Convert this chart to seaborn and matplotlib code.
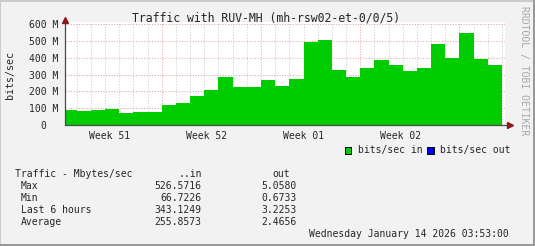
import numpy as np
import pandas as pd
import matplotlib
matplotlib.use("Agg")
import matplotlib.pyplot as plt
from matplotlib.patches import Rectangle
import seaborn as sns

# ---------------- data ----------------
# day offsets relative to Monday 2025-12-22 (start of Week 52); first bin is partial
bin_edges = [-6.82, -6, -5, -4, -3, -2, -1, 0, 1, 2, 3, 4, 5, 6, 7, 8, 9, 10,
             11, 12, 13, 14, 15, 16, 17, 18, 19, 20, 21, 22, 23, 24]
bits_in_M = [89, 83, 89, 95, 71.5, 77, 77,
             119, 131, 173, 209, 286, 226, 226,
             268, 232, 274, 495, 507, 328, 286,
             340, 387, 358, 322, 340, 483, 399,
             548, 393, 358]
week_labels = ["Week 51", "Week 52", "Week 01", "Week 02"]
week_label_pos = [-3.68, 3.17, 10.02, 16.84]
week_starts = [0, 7, 14, 21]
y_ticks = [0, 100, 200, 300, 400, 500, 600]
y_tick_labels = ["0  ", "100 M", "200 M", "300 M", "400 M", "500 M", "600 M"]

title = "Traffic with RUV-MH (mh-rsw02-et-0/0/5)"
legend_labels = ["bits/sec in", "bits/sec out"]
table_header = ["Traffic - Mbytes/sec", "..in", "out"]
row_names = ["Max", "Min", "Last 6 hours", "Average"]
in_vals = ["526.5716", "66.7226", "343.1249", "255.8573"]
out_vals = ["5.0580", "0.6733", "3.2253", "2.4656"]
timestamp = "Wednesday January 14 2026 03:53:00"

GREEN = "#00cc00"
BLUE = "#0000ff"
BACK = "#f2f2f2"

sns.set_style("white")
plt.rcParams["font.family"] = ["DejaVu Sans Mono", "DejaVu Sans"]

W, H = 535, 246
fig = plt.figure(figsize=(W / 100, H / 100), dpi=100, facecolor=BACK)

def fx(px):
    return px / W

def fy(py):
    return 1 - py / H

# axes: x 65..505 px, y 22..125 px
ax = fig.add_axes([fx(65), fy(125), fx(505) - fx(65), (125 - 22) / H])
ax.set_facecolor("white")

mids = [(bin_edges[i] + bin_edges[i + 1]) / 2 for i in range(len(bits_in_M))]
df = pd.DataFrame({"day": mids, "value": bits_in_M})
sns.histplot(data=df, x="day", weights="value", bins=bin_edges, element="step",
             fill=True, color=GREEN, alpha=1, linewidth=0, ax=ax, zorder=2)

ax.set_xlim(-6.82, 24.21)
ax.set_ylim(0, 614)

# grid
dot = (0, (1, 1.6))
for d in range(-6, 25):
    if d in week_starts:
        continue
    ax.axvline(d, color="#cccccc", lw=0.75, ls=dot, zorder=1)
for d in week_starts:
    ax.axvline(d, color="#e6a6a6", lw=0.75, ls=dot, zorder=1)
for yv in y_ticks[1:]:
    ax.axhline(yv, color="#e6a6a6", lw=0.75, ls=dot, zorder=1)

for s in ax.spines.values():
    s.set_visible(False)

# axis lines with arrows
ax.plot([-6.82, 24.6], [0, 0], color="#4a4a4a", lw=0.9, clip_on=False, zorder=5)
ax.plot([-6.82, -6.82], [0, 622], color="#4a4a4a", lw=0.9, clip_on=False, zorder=5)
ax.plot([24.58], [0], marker=">", color="#8b1a1a", markersize=4.5, clip_on=False, zorder=6)
ax.plot([-6.82], [624], marker="^", color="#8b1a1a", markersize=4.5, clip_on=False, zorder=6)

ax.set_xticks(week_label_pos)
ax.set_xticklabels(week_labels, fontsize=7)
ax.set_xticks(list(range(-6, 25)), minor=True)
ax.tick_params(axis="x", which="major", length=0, pad=4)
ax.tick_params(axis="x", which="minor", length=2, color="#b0b0b0", width=0.7)
ax.set_yticks(y_ticks)
ax.set_yticklabels(y_tick_labels, fontsize=7)
ax.tick_params(axis="y", which="major", length=2, color="#e08080", width=0.7, pad=2.5)
ax.set_xlabel("")
ax.set_ylabel("")

# texts
fig.text(fx(266.5), fy(21.5), title, fontsize=8.3, ha="center", va="baseline")
fig.text(fx(10.5), fy(75), "bits/sec", fontsize=7.2, rotation=90, ha="center", va="center")
fig.text(fx(524), fy(71), "RRDTOOL / TOBI OETIKER", fontsize=7, rotation=270,
         ha="center", va="center", color="#a8a8a8")

# legend
for (x0, col, lab) in [(344.5, GREEN, legend_labels[0]), (427, BLUE, legend_labels[1])]:
    fig.add_artist(Rectangle((fx(x0), fy(153.5)), 6.5 / W, 6.5 / H, transform=fig.transFigure,
                             facecolor=col, edgecolor="black", lw=0.7))
    fig.text(fx(x0 + 13), fy(153.3), lab, fontsize=7, ha="left", va="baseline")

# table
fig.text(fx(14.7), fy(177.3), table_header[0], fontsize=7, ha="left", va="baseline")
fig.text(fx(201.7), fy(177.3), table_header[1], fontsize=7, ha="right", va="baseline")
fig.text(fx(280.7), fy(177.3), table_header[2], fontsize=7, ha="center", va="baseline")
for i, (nm, vi, vo) in enumerate(zip(row_names, in_vals, out_vals)):
    yb = 189.3 + 12 * i
    fig.text(fx(20.7), fy(yb), nm, fontsize=7, ha="left", va="baseline")
    fig.text(fx(201.7), fy(yb), vi, fontsize=7, ha="right", va="baseline")
    fig.text(fx(297), fy(yb), vo, fontsize=7, ha="right", va="baseline")
fig.text(fx(509), fy(237.3), timestamp, fontsize=7, ha="right", va="baseline")

# 3D border
fig.add_artist(Rectangle((0, fy(1.5)), 1, 1.5 / H, transform=fig.transFigure,
                         facecolor="#cbcbcb", edgecolor="none"))
fig.add_artist(Rectangle((0, 0), 1.5 / W, 1, transform=fig.transFigure,
                         facecolor="#cbcbcb", edgecolor="none"))
fig.add_artist(Rectangle((0, 0), 1, 2.5 / H, transform=fig.transFigure,
                         facecolor="#999999", edgecolor="none"))
fig.add_artist(Rectangle((fx(W - 2.5), 0), 2.5 / W, 1, transform=fig.transFigure,
                         facecolor="#999999", edgecolor="none"))

fig.savefig("out.png", dpi=100, facecolor=BACK)
